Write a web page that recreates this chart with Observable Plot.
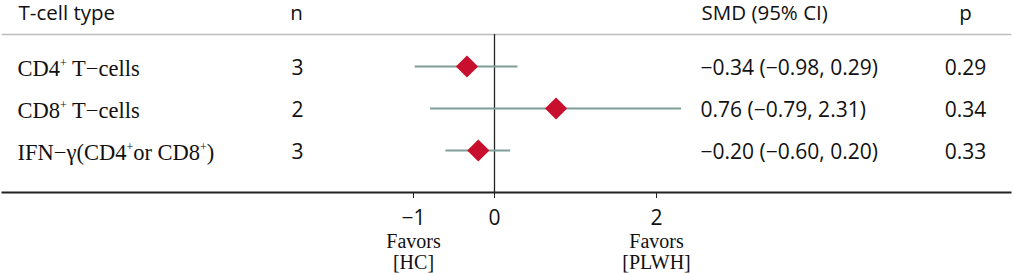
<!DOCTYPE html>
<html><head><meta charset="utf-8">
<script src="https://cdn.jsdelivr.net/npm/d3@7"></script>
<script src="https://cdn.jsdelivr.net/npm/@observablehq/plot@0.6"></script>
<style>body{margin:0;background:#fff} svg{display:block;overflow:visible}</style>
</head><body><div id="chart"></div>
<script>
// ---- data ----
const types = ["CD4^+ T\u2212cells", "CD8^+ T\u2212cells", "IFN\u2212\u03b3(CD4^+or CD8^+)"];
const nStudies = [3, 2, 3];
const smd = [-0.34, 0.76, -0.20];
const ciLow = [-0.98, -0.79, -0.60];
const ciHigh = [0.29, 2.31, 0.20];
const pValues = [0.29, 0.34, 0.33];
const headers = ["T-cell type", "n", "SMD (95% CI)", "p"];
const xTicks = [-1, 0, 2];
const favorLabels = ["Favors\n[HC]", "Favors\n[PLWH]"];
const favorAt = [-1, 2];

const f2 = d3.format(".2f");
const rows = types.map((t, i) => ({
  type: t, n: nStudies[i], smd: smd[i], lo: ciLow[i], hi: ciHigh[i], p: pValues[i],
  ci: `${f2(smd[i])} (${f2(ciLow[i])}, ${f2(ciHigh[i])})`
}));
const favors = favorLabels.map((l, i) => ({label: l, x: favorAt[i]}));

const SANS = "'Open Sans', 'Noto Sans', sans-serif";
const SERIF = "'Liberation Serif', 'Times New Roman', serif";
const mL = 2;

const header = (text, px, anchor) => Plot.text([text], {
  text: d => d, frameAnchor: "top-left", dx: px - mL, dy: -21,
  textAnchor: anchor, lineAnchor: "middle", fontFamily: SANS, fontSize: 20.5, fill: "#111"
});
const col = (field, px, anchor, font, size) => Plot.text(rows, {
  y: "type", text: field, frameAnchor: "left", dx: px - mL, dy: 2,
  textAnchor: anchor, fontFamily: font, fontSize: size, fill: "#111"
});

const chart = Plot.plot({
  width: 1013, height: 273,
  marginTop: 34, marginBottom: 81, marginLeft: mL, marginRight: 3,
  x: {domain: [-1, 2], range: [413, 656]},
  y: {type: "point", domain: types, range: [66, 150], padding: 0},
  marks: [
    Plot.frame({anchor: "top", stroke: "#bcbcbc", strokeWidth: 1.5}),
    Plot.frame({anchor: "bottom", stroke: "#222", strokeWidth: 2}),
    Plot.ruleX([0], {stroke: "#222", strokeWidth: 1.3}),
    Plot.axisX({ticks: xTicks, tickSize: 6, tickPadding: 12, tickFormat: d3.format("d"),
      fontFamily: SANS, fontSize: 21, stroke: "#222", fill: "#111", label: null}),
    Plot.axisY({ticks: [], label: null}),
    Plot.ruleY(rows, {y: "type", x1: "lo", x2: "hi", stroke: "#7f9f98", strokeWidth: 2}),
    Plot.dot(rows, {x: "smd", y: "type", symbol: "diamond2", r: 10, fill: "#c8102e", stroke: null}),
    header("T-cell type", 18, "start"),
    header("n", 296, "middle"),
    header("SMD (95% CI)", 701, "start"),
    header("p", 965, "middle"),
    col("type", 17, "start", SERIF, 22.5),
    col("n", 297, "middle", SANS, 21),
    col("ci", 700, "start", SANS, 21),
    col(d => f2(d.p), 965, "middle", SANS, 21),
    Plot.text(favors, {x: "x", text: "label", frameAnchor: "bottom", lineAnchor: "top",
      dy: 41, fontFamily: SERIF, fontSize: 20, lineHeight: 1.05, fill: "#111"})
  ]
});

// superscript "+" rendering
d3.select(chart).selectAll("text").each(function() {
  const t = this.textContent;
  if (!t.includes("^+") || this.querySelector("tspan")) return;
  const parts = t.split("^+");
  const sel = d3.select(this);
  sel.text(null);
  parts.forEach((part, i) => {
    const ts = sel.append("tspan").text(part);
    if (i > 0) ts.attr("dy", 9);
    if (i < parts.length - 1) {
      sel.append("tspan").attr("font-size", 12).attr("dy", -9).text("+");
    }
  });
});
document.getElementById("chart").append(chart);
</script>
</body></html>
